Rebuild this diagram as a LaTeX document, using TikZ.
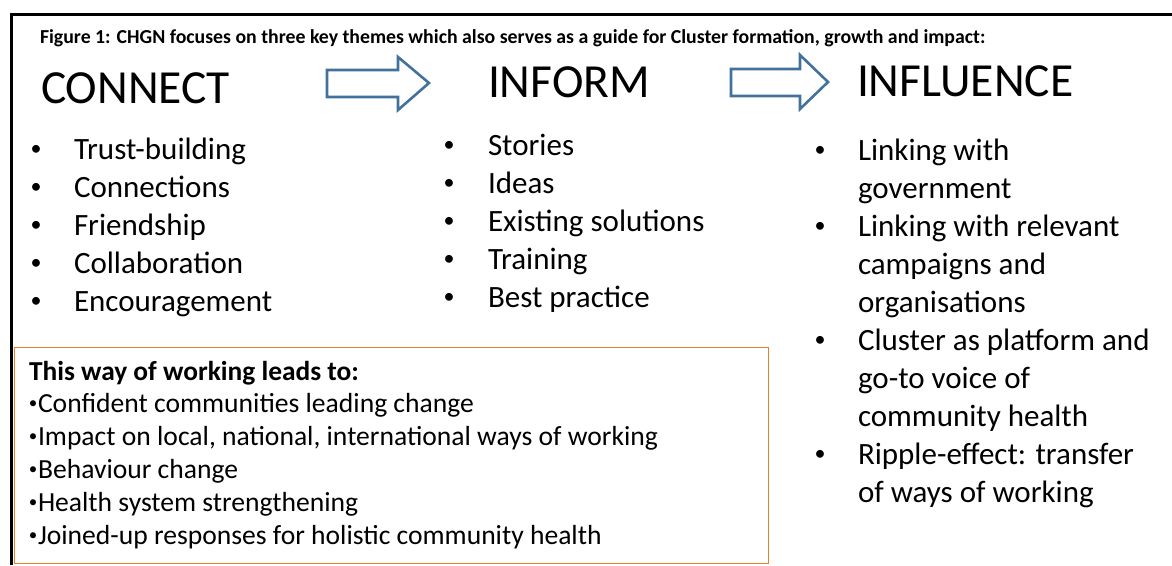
\documentclass[tikz,border=0pt]{standalone}
\usepackage{fontspec}
\setmainfont{Carlito}
\definecolor{arrowblue}{HTML}{41719C}
\definecolor{boxorange}{HTML}{ED7D31}
\begin{document}
\begin{tikzpicture}[x=1pt,y=-1pt,
  txt/.style={anchor=base west,inner sep=0pt,outer sep=0pt},
  head/.style={txt,font=\fontsize{47.5}{50}\selectfont},
  item/.style={txt,font=\fontsize{31}{38}\selectfont},
  dot/.style={anchor=center,inner sep=0pt,outer sep=0pt,font=\fontsize{22}{22}\selectfont},
  smalldot/.style={anchor=center,inner sep=0pt,outer sep=0pt,font=\fontsize{17}{17}\selectfont},
  boxitem/.style={txt,font=\fontsize{27.6}{33}\selectfont},
  bigarrow/.style={draw=arrowblue,line width=2.6pt,fill=white,line join=miter}]
\useasboundingbox (0,0) rectangle (1172,565);
% frame
\draw[line width=3pt] (11,565) -- (11,14) -- (1172,14);
% title
\node[txt,font=\fontsize{19.8}{22}\bfseries\selectfont] (title) at (40,43) {Figure 1: CHGN focuses on three key themes which also serves as a guide for Cluster formation, growth and impact:};
% headings
\node[head] (connect) at (41,103) {CONNECT};
\node[head] (inform) at (488,97) {INFORM};
\node[head] (influence) at (857,96) {INFLUENCE};
% arrows
\draw[bigarrow] (327,70) -- (398,70) -- (398,57) -- (429,83) -- (398,110) -- (398,97) -- (327,97) -- cycle;
\draw[bigarrow] (731,69) -- (800,69) -- (800,55) -- (828,82) -- (800,109) -- (800,96) -- (731,96) -- cycle;
% connect list
\foreach \t [count=\i] in {Trust-building,Connections,Friendship,Collaboration,Encouragement}{
  \node[dot] (cb\i) at (36,{150+38*(\i-1)}) {•};
  \node[item] (c\i) at (74,{159+38*(\i-1)}) {\t};
}
% inform list
\foreach \t [count=\i] in {Stories,Ideas,Existing solutions,Training,Best practice}{
  \node[dot] (ib\i) at (449,{146+38*(\i-1)}) {•};
  \node[item] (i\i) at (488,{155+38*(\i-1)}) {\t};
}
% influence list
\foreach \t [count=\i] in {Linking with,government,Linking with relevant,campaigns and,organisations,Cluster as platform and,go-to voice of,community health,Ripple-effect: transfer,of ways of working}{
  \node[item] (f\i) at (858,{160+38*(\i-1)}) {\t};
}
\node[dot] (fb1) at (820,151) {•};
\node[dot] (fb2) at (820,227) {•};
\node[dot] (fb3) at (820,341) {•};
\node[dot] (fb4) at (820,455) {•};
% orange box
\node[draw=boxorange,line width=1.2pt,minimum width=754pt,minimum height=216pt,anchor=north west,inner sep=0pt] (box) at (14,347) {};
\node[txt,font=\fontsize{27.4}{33}\bfseries\selectfont] (boxtitle) at (29,380) {This way of working leads to:};
\foreach \t [count=\i] in {Confident communities leading change,{Impact on local, national, international ways of working},Behaviour change,Health system strengthening,Joined-up responses for holistic community health}{
  \node[smalldot] (bd\i) at (33,{405+33*(\i-1)}) {•};
  \node[boxitem] (b\i) at (38,{412+33*(\i-1)}) {\t};
}
\end{tikzpicture}
\end{document}
